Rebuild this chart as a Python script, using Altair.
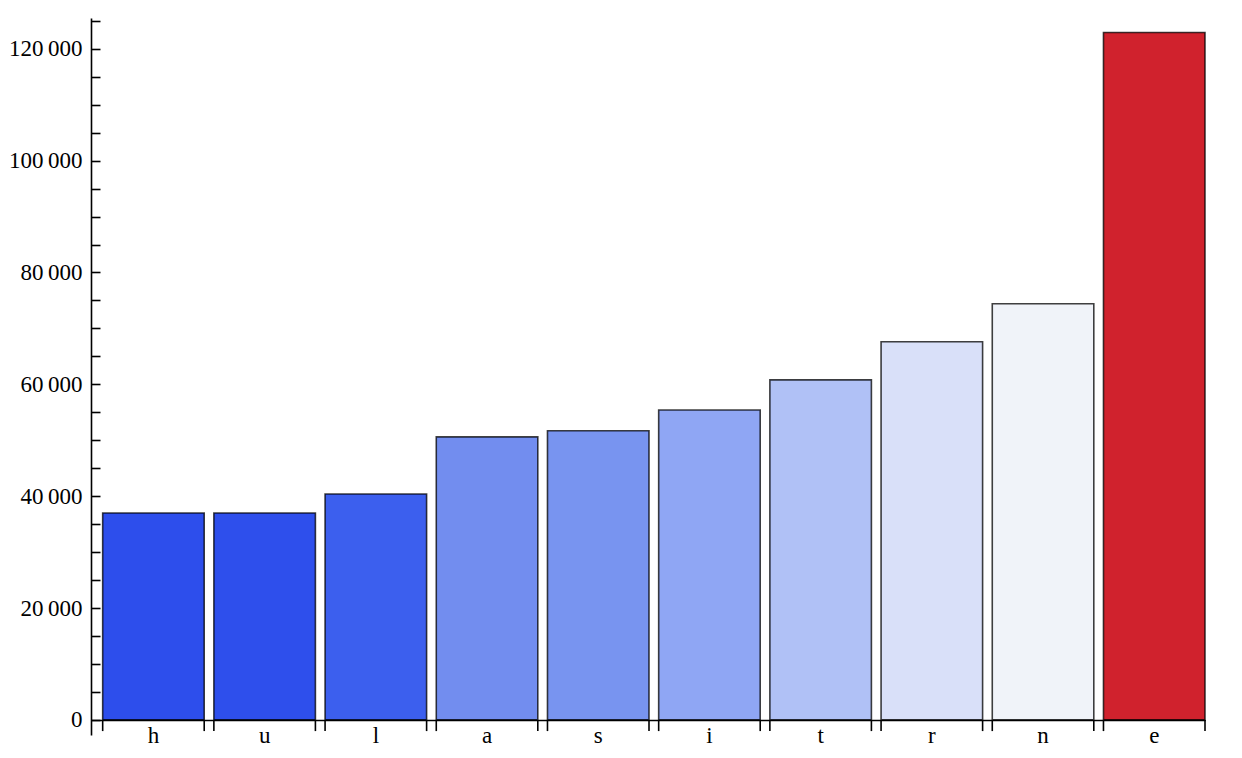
import altair as alt
import pandas as pd

letters = ["h", "u", "l", "a", "s", "i", "t", "r", "n", "e"]
counts = [37000, 37000, 40400, 50600, 51700, 55400, 60800, 67600, 74400, 122900]
colors = ["#2D4EEC", "#2E4FEC", "#3C5FEE", "#728DEF", "#7894F0",
          "#8FA6F4", "#B0C1F6", "#D9E0F9", "#F0F3F9", "#D0222D"]
y_ticks = list(range(0, 125001, 5000))

df = pd.DataFrame({"letter": letters, "count": counts, "color": colors})

W, H = 1114, 717
ydom = [-2700, 125500]
FONT = "Liberation Serif"

xscale = alt.Scale(domain=letters, paddingInner=0.087, paddingOuter=0.0525, align=1)
yscale = alt.Scale(domain=ydom, nice=False)

label_expr = "datum.value % 20000 === 0 ? replace(format(datum.value, ','), ',', '\u2009') : ''"

xaxis = alt.Axis(title=None, ticks=False, domain=True, domainColor="black",
                 domainWidth=1.6, offset=-15, labelAngle=0, labelFont=FONT,
                 labelFontSize=23, labelPadding=4, labelColor="black",
                 orient="bottom", zindex=1)

base = alt.Chart(df)

bars = base.mark_bar(stroke="black", strokeOpacity=0.75, strokeWidth=1.6).encode(
    x=alt.X("letter:N", sort=letters, scale=xscale, axis=xaxis),
    y=alt.Y("count:Q", scale=yscale,
            axis=alt.Axis(title=None, values=y_ticks, labelExpr=label_expr,
                          domain=False, grid=False, tickSize=9, tickWidth=1.6,
                          tickColor="black", offset=-9, labelPadding=9,
                          labelFont=FONT, labelFontSize=23, labelColor="black",
                          labelOverlap=False, labelFlush=False, orient="left",
                          zindex=1)),
    color=alt.Color("color:N", scale=None),
)

left_ticks = base.mark_rule(color="black", strokeWidth=1.6).encode(
    x=alt.X("letter:N", sort=letters, scale=xscale, bandPosition=0, axis=xaxis),
    y=alt.YDatum(0, scale=yscale,
                 axis=alt.Axis(title=None, orient="left", domain=True, ticks=False,
                               labels=False, grid=False, domainColor="black",
                               domainWidth=1.6, zindex=1)),
    y2=alt.Y2Datum(-2000),
)

right_ticks = base.mark_rule(color="black", strokeWidth=1.6).encode(
    x=alt.X("letter:N", sort=letters, scale=xscale, bandPosition=1, axis=xaxis),
    y=alt.YDatum(0, scale=yscale, axis=None),
    y2=alt.Y2Datum(-2000),
)

chart = (
    alt.layer(bars, left_ticks, right_ticks)
    .resolve_axis(y="independent")
    .properties(width=W, height=H, padding={"left": 0, "top": 1, "right": 5, "bottom": 0})
    .configure_view(stroke=None)
)

chart.save("out.html", embed_options={"renderer": "svg", "actions": False})
